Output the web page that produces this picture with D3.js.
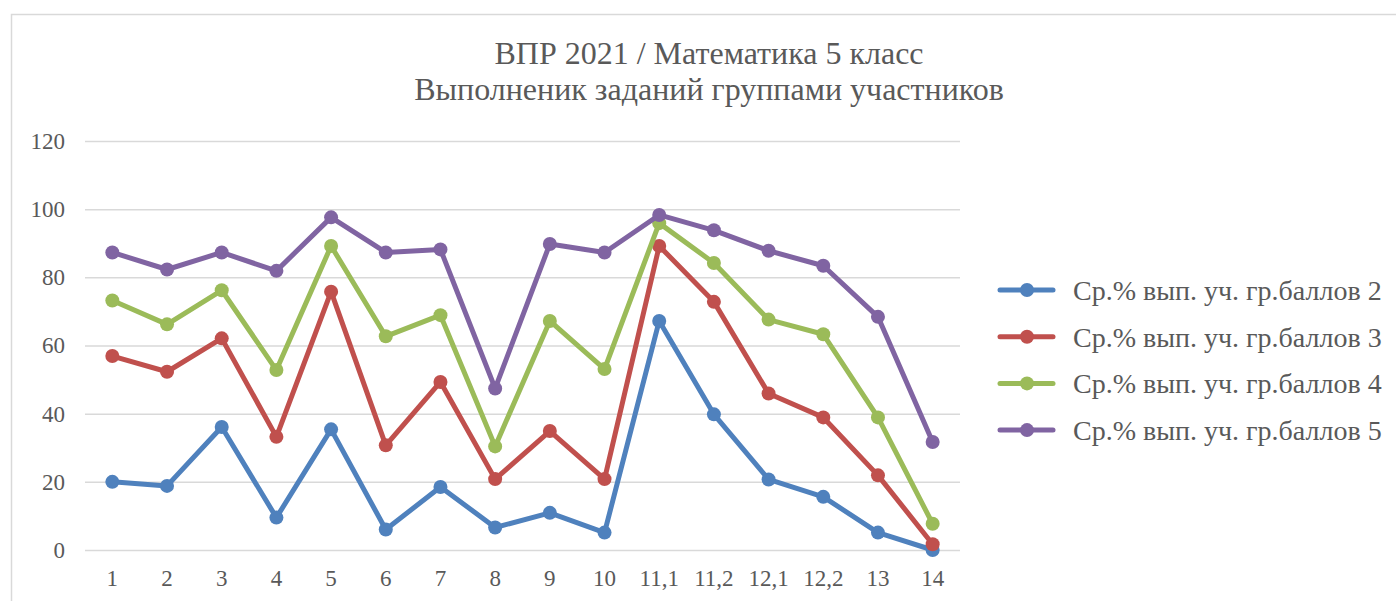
<!DOCTYPE html>
<html>
<head>
<meta charset="utf-8">
<script src="https://cdn.jsdelivr.net/npm/d3@7"></script>
</head>
<body style="margin:0; background:#fff">
<div id="chart"></div>
<script>
const categories = ["1", "2", "3", "4", "5", "6", "7", "8", "9", "10", "11,1", "11,2", "12,1", "12,2", "13", "14"];
const seriesNames = [
  "Ср.% вып. уч. гр.баллов 2",
  "Ср.% вып. уч. гр.баллов 3",
  "Ср.% вып. уч. гр.баллов 4",
  "Ср.% вып. уч. гр.баллов 5"
];
const group2 = [20.0, 18.8, 36.1, 9.5, 35.4, 6.0, 18.5, 6.6, 10.9, 5.1, 67.2, 39.8, 20.7, 15.6, 5.1, 0];
const group3 = [56.9, 52.3, 62.1, 33.2, 75.8, 30.7, 49.3, 20.8, 34.9, 20.8, 89.2, 72.8, 45.9, 38.9, 21.9, 1.7];
const group4 = [73.2, 66.2, 76.2, 52.8, 89.2, 62.7, 68.9, 30.4, 67.2, 53.1, 95.9, 84.2, 67.6, 63.3, 38.9, 7.7];
const group5 = [87.3, 82.3, 87.3, 81.9, 97.6, 87.3, 88.2, 47.4, 89.8, 87.3, 98.3, 93.8, 87.8, 83.4, 68.4, 31.7];
const yTicks = [0, 20, 40, 60, 80, 100, 120];
const colors = ["#4F81BD", "#C0504D", "#9BBB59", "#8064A2"];

const font = "Liberation Serif";
const textColor = "#595959";
const width = 1396, height = 601;
const plot = {left: 85, right: 960, top: 141, bottom: 550};

const svg = d3.select("#chart").append("svg")
    .attr("width", width)
    .attr("height", height)
    .attr("font-family", font);

// outer chart border
svg.append("rect")
    .attr("x", 11.5).attr("y", 14.5)
    .attr("width", width).attr("height", height)
    .attr("fill", "none")
    .attr("stroke", "#d9d9d9")
    .attr("stroke-width", 1.5);

const titleLines = ["ВПР 2021 / Математика 5 класс", "Выполненик заданий группами участников"];
svg.append("g")
  .selectAll("text")
  .data(titleLines)
  .join("text")
    .attr("x", 709)
    .attr("y", (d, i) => 64 + i * 36)
    .attr("text-anchor", "middle")
    .attr("font-family", font)
    .attr("font-size", 32)
    .attr("fill", textColor)
    .text(d => d);

const x = d3.scaleBand()
  .domain(categories)
  .range([plot.left, plot.right]);

const y = d3.scaleLinear()
  .domain([0, 120])
  .range([plot.bottom, plot.top]);

svg.append("g")
    .attr("class", "axis axis--y")
    .attr("transform", `translate(${plot.left},0)`)
    .call(d3.axisLeft(y).tickValues(yTicks).tickSize(-(plot.right - plot.left)).tickPadding(20))
    .call(g => g.attr("font-family", font))
    .call(g => g.select(".domain").remove())
    .call(g => g.selectAll(".tick line").attr("stroke", "#d9d9d9").attr("stroke-width", 1.5))
    .call(g => g.selectAll(".tick text")
      .attr("font-size", 23)
      .attr("font-family", font)
      .attr("fill", textColor));

svg.append("g")
    .attr("class", "axis axis--x")
    .attr("transform", `translate(0,${plot.bottom})`)
    .call(d3.axisBottom(x).tickSize(0).tickPadding(20))
    .call(g => g.attr("font-family", font))
    .call(g => g.select(".domain").remove())
    .call(g => g.selectAll(".tick text")
      .attr("font-size", 23)
      .attr("font-family", font)
      .attr("fill", textColor));

const allSeries = [group2, group3, group4, group5];
const cx = (d, i) => x(categories[i]) + x.bandwidth() / 2;

const line = d3.line()
  .x(cx)
  .y(d => y(d));

const series = svg.append("g")
  .selectAll("g")
  .data(allSeries)
  .join("g");

series.append("path")
    .attr("d", d => line(d))
    .attr("fill", "none")
    .attr("stroke", (d, i) => colors[i])
    .attr("stroke-width", 5)
    .attr("stroke-linejoin", "round")
    .attr("stroke-linecap", "round");

series.each(function (vals, si) {
  d3.select(this).selectAll("circle")
    .data(vals)
    .join("circle")
      .attr("cx", cx)
      .attr("cy", d => y(d))
      .attr("r", 7)
      .attr("fill", colors[si]);
});

// legend
const legend = svg.append("g")
  .selectAll("g")
  .data(seriesNames)
  .join("g")
    .attr("transform", (d, i) => `translate(1000,${290 + i * 46.7})`);

legend.append("line")
    .attr("x1", 0).attr("x2", 53)
    .attr("stroke", (d, i) => colors[i])
    .attr("stroke-width", 5)
    .attr("stroke-linecap", "round");
legend.append("circle")
    .attr("cx", 27).attr("r", 7)
    .attr("fill", (d, i) => colors[i]);
legend.append("text")
    .attr("x", 73).attr("dy", "0.35em")
    .attr("font-family", font)
    .attr("font-size", 28)
    .attr("fill", textColor)
    .text(d => d);
</script>
</body>
</html>
